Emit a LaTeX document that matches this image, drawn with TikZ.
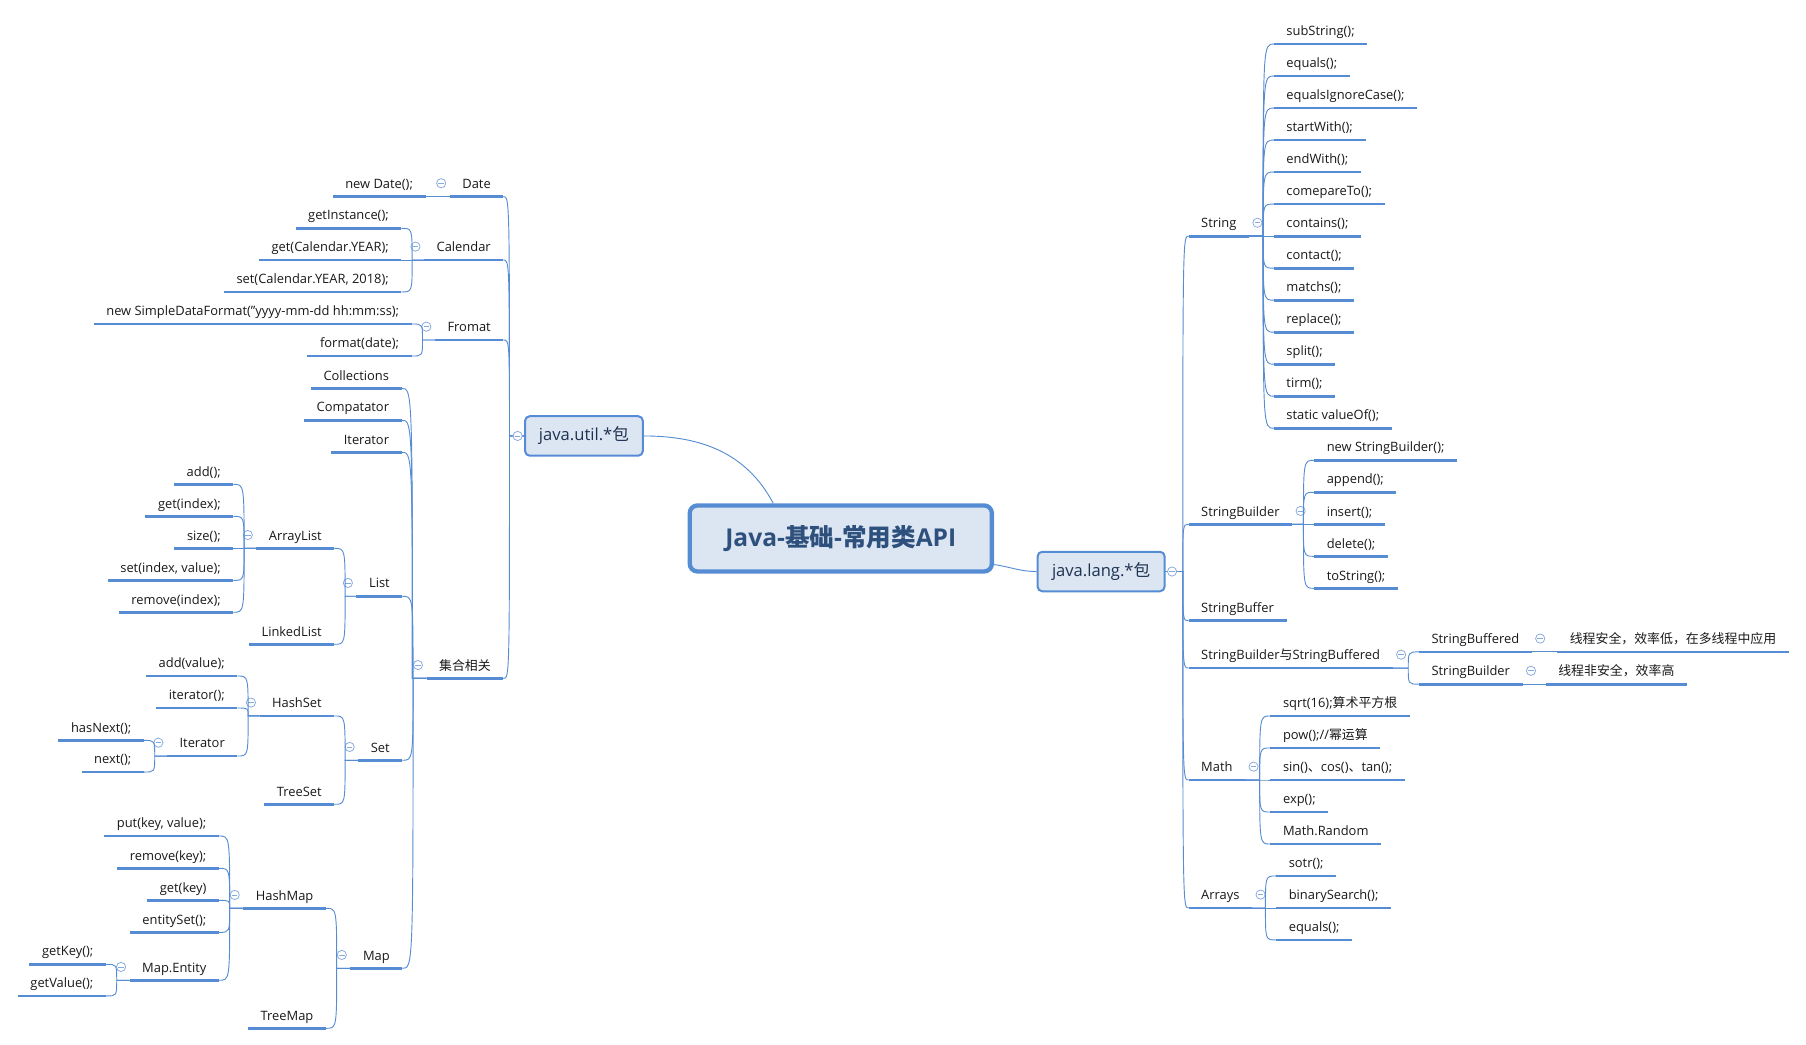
\documentclass[tikz,border=0pt]{standalone}
\usepackage{fontspec}
\setmainfont{Open Sans}
\newfontfamily\cjk{Noto Sans CJK SC}
\usetikzlibrary{calc}
\definecolor{mindblue}{RGB}{86,140,211}
\definecolor{mindfill}{RGB}{220,230,243}
\definecolor{mindnavy}{RGB}{30,50,80}
\definecolor{mindtitle}{RGB}{46,80,125}
\definecolor{mindfold}{RGB}{135,170,222}

\begin{document}
\begin{tikzpicture}[x=0.75pt,y=-0.75pt,
 link/.style={mindblue,line width=0.6pt},
 fan/.style={to path={let \p1=(\tikztostart),\p2=(\tikztotarget) in
  -- (\x2+#1,\y1) .. controls (\x2+#1,\y2) .. (\p2)}},
 fr/.style={fan=-7pt},
 fl/.style={fan=7pt},
 uline/.style={draw=mindblue,line width=1.8pt,line cap=butt},
 topic/.style={font=\fontsize{8.4}{10}\selectfont,text=black!90,
  text height=6.5pt,text depth=2pt,inner xsep=8pt,inner ysep=3.2pt,
  append after command={(\tikzlastnode.south west) edge[uline] (\tikzlastnode.south east)}},
 tr/.style={topic,anchor=south west},
 tl/.style={topic,anchor=south east},
 fold/.style={circle,draw=mindfold,fill=white,line width=0.5pt,minimum size=6pt,inner sep=0pt,
  path picture={\draw[mindfold,line width=0.5pt]
   ([xshift=-1.8pt]path picture bounding box.center) -- ([xshift=1.8pt]path picture bounding box.center);}},
 foldr/.style={append after command={([shift={(5.5pt,8.7pt)}]\tikzlastnode.south east) node[fold]{}}},
 foldl/.style={append after command={([shift={(-5.6pt,8.7pt)}]\tikzlastnode.south west) node[fold]{}}},
 box/.style={draw=mindblue,fill=mindfill,line width=1.3pt,rounded corners=3pt,text=mindnavy,
  font=\fontsize{10.8}{12}\selectfont,minimum height=25.7pt,inner sep=0pt}]
\useasboundingbox (0,0) rectangle (1568,907);
% Mitte und die beiden Pakete
\node[box,line width=2.8pt,rounded corners=5pt,minimum width=196.7pt,minimum height=43pt,
 text=mindtitle,font=\bfseries\fontsize{16}{18}\selectfont] (root) at (730,467.5)
 {Java-{\cjk 基础}-{\cjk 常用类}API};
\node[box,minimum width=76.7pt] (util) at (507,378.5) {java.util.*{\cjk 包}};
\node[box,minimum width=82.7pt] (lang) at (956,496.2) {java.lang.*{\cjk 包}};
\draw[link] (util.east) to[out=0,in=118] ([xshift=-44pt]root.north);
\draw[link] ([yshift=-17pt]root.east) to[out=-8,in=180] (lang.west);

% java.lang
\node[tr,foldr] (str) at (1032,205) {String};
\node[tr] (s1) at (1106,38.2) {subString();};
\node[tr] (s2) at (1106,66) {equals();};
\node[tr] (s3) at (1106,93.8) {equalsIgnoreCase();};
\node[tr] (s4) at (1106,121.6) {startWith();};
\node[tr] (s5) at (1106,149.4) {endWith();};
\node[tr] (s6) at (1106,177.2) {comepareTo();};
\node[tr] (s7) at (1106,205) {contains();};
\node[tr] (s8) at (1106,232.8) {contact();};
\node[tr] (s9) at (1106,260.6) {matchs();};
\node[tr] (s10) at (1106,288.4) {replace();};
\node[tr] (s11) at (1106,316.2) {split();};
\node[tr] (s12) at (1106,344) {tirm();};
\node[tr] (s13) at (1106,371.8) {static valueOf();};
\node[tr,foldr] (sbld) at (1032,455.2) {StringBuilder};
\node[tr] (b1) at (1141,399.6) {new StringBuilder();};
\node[tr] (b2) at (1141,427.4) {append();};
\node[tr] (b3) at (1141,455.2) {insert();};
\node[tr] (b4) at (1141,483) {delete();};
\node[tr] (b5) at (1141,510.8) {toString();};
\node[tr] (sbuf) at (1032,539) {StringBuffer};
\node[tr,foldr] (cmp) at (1032,580) {StringBuilder{\cjk 与}StringBuffered};
\node[tr,foldr] (cbf) at (1232,566) {StringBuffered};
\node[tr] (cbfNote) at (1352,566) {\cjk 线程安全，效率低，在多线程中应用};
\node[tr,foldr] (cbd) at (1232,594) {StringBuilder};
\node[tr] (cbdNote) at (1342,594) {\cjk 线程非安全，效率高};
\node[tr,foldr] (math) at (1032,677.2) {Math};
\node[tr] (m1) at (1103,621.6) {sqrt(16);{\cjk 算术平方根}};
\node[tr] (m2) at (1103,649.4) {pow();//{\cjk 幂运算}};
\node[tr] (m3) at (1103,677.2) {sin(){\cjk 、}cos(){\cjk 、}tan();};
\node[tr] (m4) at (1103,705) {exp();};
\node[tr] (m5) at (1103,732.8) {Math.Random};
\node[tr,foldr] (arr) at (1032,788.3) {Arrays};
\node[tr] (a1) at (1108,760.5) {sotr();};
\node[tr] (a2) at (1108,788.3) {binarySearch();};
\node[tr] (a3) at (1108,816.1) {equals();};

\path[link] (lang.east) edge[fan=-3.8pt] (str.south west) edge[fan=-3.8pt] (sbld.south west)
 edge[fan=-3.8pt] (sbuf.south west) edge[fan=-3.8pt] (cmp.south west)
 edge[fan=-3.8pt] (math.south west) edge[fan=-3.8pt] (arr.south west);
\path[link] (str.south east) edge[fr] (s1.south west) edge[fr] (s2.south west)
 edge[fr] (s3.south west) edge[fr] (s4.south west) edge[fr] (s5.south west)
 edge[fr] (s6.south west) edge[fr] (s7.south west) edge[fr] (s8.south west)
 edge[fr] (s9.south west) edge[fr] (s10.south west) edge[fr] (s11.south west)
 edge[fr] (s12.south west) edge[fr] (s13.south west);
\path[link] (sbld.south east) edge[fr] (b1.south west) edge[fr] (b2.south west)
 edge[fr] (b3.south west) edge[fr] (b4.south west) edge[fr] (b5.south west);
\path[link] (cmp.south east) edge[fr] (cbf.south west) edge[fr] (cbd.south west);
\path[link] (cbf.south east) edge[fr] (cbfNote.south west);
\path[link] (cbd.south east) edge[fr] (cbdNote.south west);
\path[link] (math.south east) edge[fr] (m1.south west) edge[fr] (m2.south west)
 edge[fr] (m3.south west) edge[fr] (m4.south west) edge[fr] (m5.south west);
\path[link] (arr.south east) edge[fr] (a1.south west) edge[fr] (a2.south west)
 edge[fr] (a3.south west);

% java.util
\node[tl,foldl] (date) at (437,170.7) {Date};
\node[tl] (d1) at (369.5,170.7) {new Date();};
\node[tl,foldl] (cal) at (437,225.7) {Calendar};
\node[tl] (c1) at (348.5,198.2) {getInstance();};
\node[tl] (c2) at (348.5,225.7) {get(Calendar.YEAR);};
\node[tl] (c3) at (348.5,253.5) {set(Calendar.YEAR, 2018);};
\node[tl,foldl] (fmt) at (437,295.2) {Fromat};
\node[tl] (f1) at (357.5,281.3) {new SimpleDataFormat("yyyy-mm-dd hh:mm:ss);};
\node[tl] (f2) at (357.5,309.1) {format(date);};
\node[tl,foldl] (coll) at (437,589) {\cjk 集合相关};
\node[tl] (k1) at (348.7,337.2) {Collections};
\node[tl] (k2) at (348.7,364.9) {Compatator};
\node[tl] (k3) at (348.7,392.7) {Iterator};
\node[tl,foldl] (list) at (349.3,517.7) {List};
\node[tl,foldl] (alist) at (290.3,476.1) {ArrayList};
\node[tl] (l1) at (202.6,420.5) {add();};
\node[tl] (l2) at (202.6,448.3) {get(index);};
\node[tl] (l3) at (202.6,476.1) {size();};
\node[tl] (l4) at (202.6,503.9) {set(index, value);};
\node[tl] (l5) at (202.6,531.6) {remove(index);};
\node[tl] (llist) at (290.3,559.4) {LinkedList};
\node[tl,foldl] (set) at (349.3,660.1) {Set};
\node[tl,foldl] (hset) at (290.3,621.6) {HashSet};
\node[tl] (h1) at (206.1,586.9) {add(value);};
\node[tl] (h2) at (206.1,614.7) {iterator();};
\node[tl,foldl] (hitr) at (206.1,656.4) {Iterator};
\node[tl] (i1) at (125,642.8) {hasNext();};
\node[tl] (i2) at (125,670.3) {next();};
\node[tl] (tset) at (290.3,698.3) {TreeSet};
\node[tl,foldl] (map) at (349.3,840.7) {Map};
\node[tl,foldl] (hmap) at (283,788.6) {HashMap};
\node[tl] (p1) at (190.1,725.8) {put(key, value);};
\node[tl] (p2) at (190.1,753.9) {remove(key);};
\node[tl] (p3) at (190.1,781.7) {get(key)};
\node[tl] (p4) at (190.1,809.5) {entitySet();};
\node[tl,foldl] (ment) at (190.1,851.1) {Map.Entity};
\node[tl] (e1) at (92,837.2) {getKey();};
\node[tl] (e2) at (92,864.7) {getValue();};
\node[tl] (tmap) at (283,892.8) {TreeMap};

\path[link] (util.west) edge[fan=4pt] (date.south east) edge[fan=4pt] (cal.south east)
 edge[fan=4pt] (fmt.south east) edge[fan=4pt] (coll.south east);
\path[link] (date.south west) edge[fl] (d1.south east);
\path[link] (cal.south west) edge[fl] (c1.south east) edge[fl] (c2.south east)
 edge[fl] (c3.south east);
\path[link] (fmt.south west) edge[fl] (f1.south east) edge[fl] (f2.south east);
\path[link] (coll.south west) edge[fl] (k1.south east) edge[fl] (k2.south east)
 edge[fl] (k3.south east) edge[fl] (list.south east) edge[fl] (set.south east)
 edge[fl] (map.south east);
\path[link] (list.south west) edge[fl] (alist.south east) edge[fl] (llist.south east);
\path[link] (alist.south west) edge[fl] (l1.south east) edge[fl] (l2.south east)
 edge[fl] (l3.south east) edge[fl] (l4.south east) edge[fl] (l5.south east);
\path[link] (set.south west) edge[fl] (hset.south east) edge[fl] (tset.south east);
\path[link] (hset.south west) edge[fl] (h1.south east) edge[fl] (h2.south east)
 edge[fl] (hitr.south east);
\path[link] (hitr.south west) edge[fl] (i1.south east) edge[fl] (i2.south east);
\path[link] (map.south west) edge[fl] (hmap.south east) edge[fl] (tmap.south east);
\path[link] (hmap.south west) edge[fl] (p1.south east) edge[fl] (p2.south east)
 edge[fl] (p3.south east) edge[fl] (p4.south east) edge[fl] (ment.south east);
\path[link] (ment.south west) edge[fl] (e1.south east) edge[fl] (e2.south east);

\node[fold] (langFold) at ([xshift=4.2pt]lang.east) {};
\node[fold] (utilFold) at ([xshift=-4.2pt]util.west) {};
\end{tikzpicture}
\end{document}
